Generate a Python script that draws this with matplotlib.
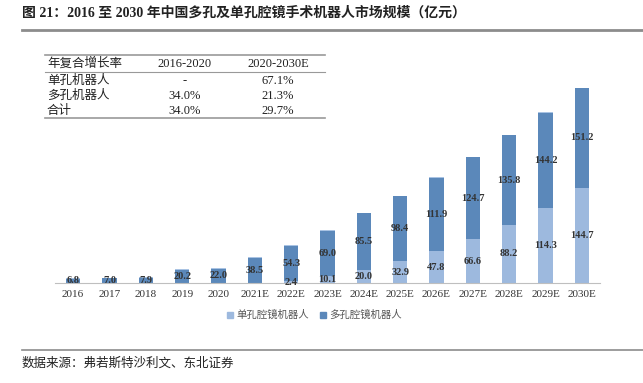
import matplotlib
matplotlib.use('Agg')
import matplotlib.pyplot as plt
import numpy as np
from matplotlib.lines import Line2D
from matplotlib.patches import Rectangle

plt.rcParams['font.family'] = ['Liberation Serif', 'Noto Sans CJK SC']

years = ['2016', '2017', '2018', '2019', '2020', '2021E', '2022E', '2023E',
         '2024E', '2025E', '2026E', '2027E', '2028E', '2029E', '2030E']
single = [0, 0, 0, 0, 0, 0, 2.4, 10.1, 20.0, 32.9, 47.8, 66.6, 88.2, 114.3, 144.7]
multi = [6.8, 7.0, 7.9, 20.2, 22.0, 38.5, 54.3, 69.0, 85.5, 98.4, 111.9, 124.7,
         135.8, 144.2, 151.2]

table_header = ['年复合增长率', '2016-2020', '2020-2030E']
table_rows = [['单孔机器人', '-', '67.1%'],
              ['多孔机器人', '34.0%', '21.3%'],
              ['合计', '34.0%', '29.7%']]

W, H = 643, 383
fig = plt.figure(figsize=(W / 100, H / 100), dpi=100)

def px(x, y):
    return x / W, 1 - y / H

light = '#9DB9DE'
dark = '#5B88BA'
txt = '#333333'

ax = fig.add_axes([55 / W, 1 - 283 / H, 545 / W, 197.7 / H])
x = np.arange(len(years))
ax.bar(x, single, width=0.4, color=light, edgecolor='none')
ax.bar(x, multi, width=0.4, bottom=single, color=dark, edgecolor='none')
ax.bar(x, [0.6] * len(x), width=0.4, bottom=np.add(single, multi),
       color='#A9C3E3', edgecolor='none')
for i in x:
    if single[i] > 0:
        ax.text(i, single[i] / 2, f'{single[i]:.1f}', ha='center', va='center',
                fontsize=7.5, fontweight='bold', color=txt)
    ax.text(i, single[i] + multi[i] / 2, f'{multi[i]:.1f}', ha='center',
            va='center', fontsize=7.5, fontweight='bold', color=txt)

ax.set_xlim(-0.5, len(years) - 0.5)
ax.set_ylim(0, 300)
ax.set_xticks(x)
ax.set_xticklabels(years, fontsize=8, color=txt)
ax.tick_params(axis='x', length=0, pad=5)
ax.set_yticks([])
for s in ['top', 'right', 'left']:
    ax.spines[s].set_visible(False)
ax.spines['bottom'].set_color('#BFBFBF')
ax.spines['bottom'].set_linewidth(0.8)

# title
fig.text(*px(22, 13), '图 21：2016 至 2030 年中国多孔及单孔腔镜手术机器人市场规模（亿元）',
         fontsize=10, fontweight='bold', va='center', ha='left', color='#222222')
fig.add_artist(Line2D([22 / W, 1], [1 - 30 / H] * 2, color='#8C8C8C', lw=2))

# growth table
for yy, lw in [(55, 1.2), (72, 0.8), (118, 1.2)]:
    fig.add_artist(Line2D([45 / W, 325 / W], [1 - yy / H] * 2, color='#999999', lw=lw))
row_y = [64, 81, 96, 111]
col_x = [(47, 'left'), (185, 'center'), (278, 'center')]
for r, row in enumerate([table_header] + table_rows):
    for c, val in enumerate(row):
        fig.text(*px(col_x[c][0], row_y[r]), val, ha=col_x[c][1], va='center',
                 fontsize=9, color='#222222')

# legend
for lx, label, col in [(230, '单孔腔镜机器人', light), (323, '多孔腔镜机器人', dark)]:
    fig.add_artist(Rectangle(px(lx - 3, 318), 6 / W, 6 / H, color=col,
                             transform=fig.transFigure))
    fig.text(*px(lx + 6, 315), label, ha='left', va='center', fontsize=7.5,
             color='#555555')

# source
fig.add_artist(Line2D([22 / W, 1], [1 - 350 / H] * 2, color='#8C8C8C', lw=1.2))
fig.text(*px(22, 364), '数据来源：弗若斯特沙利文、东北证券', ha='left', va='center',
         fontsize=9, color='#222222')

fig.savefig('out.png', dpi=100)
